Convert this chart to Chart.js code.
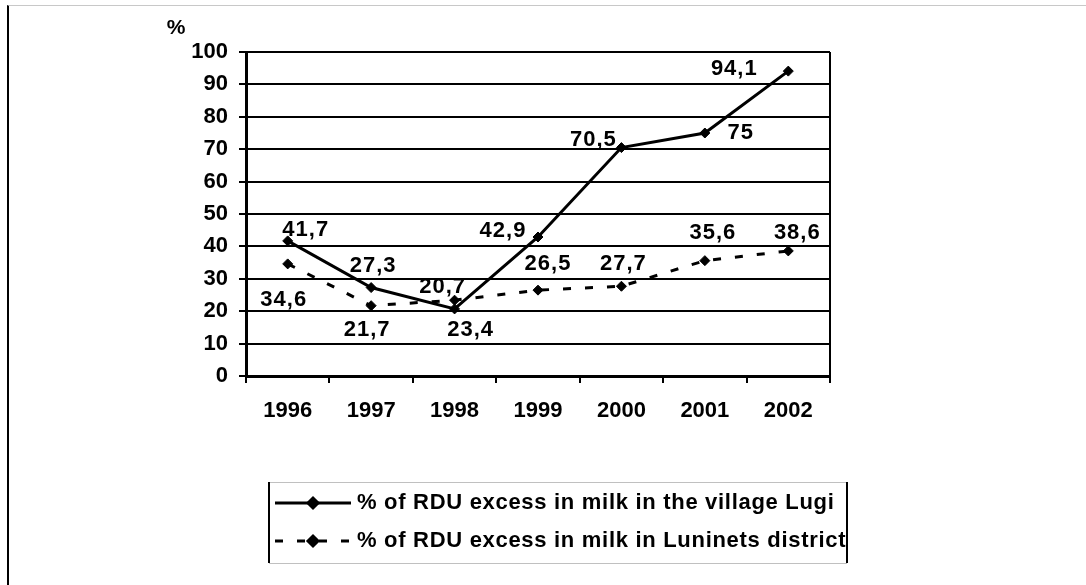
<!DOCTYPE html>
<html>
<head>
<meta charset="utf-8">
<script src="https://cdn.jsdelivr.net/npm/chart.js@4/dist/chart.umd.min.js"></script>
<style>
  html, body { margin: 0; padding: 0; background: #fff; }
  #wrap { position: relative; width: 1086px; height: 585px; overflow: hidden; }
  #line-chart { position: absolute; left: 0; top: 0; }
  #frame {
    position: absolute; left: 7px; top: 5px; right: 0; bottom: 0;
    border-top: 1px solid #c8c8c8; border-left: 2px solid #000;
    pointer-events: none;
  }
</style>
</head>
<body>
<div id="wrap">
  <canvas id="line-chart" width="1086" height="585"></canvas>
  <div id="frame"></div>
</div>
<script>
const years = ["1996", "1997", "1998", "1999", "2000", "2001", "2002"];
const lugi = [41.7, 27.3, 20.7, 42.9, 70.5, 75, 94.1];
const luninets = [34.6, 21.7, 23.4, 26.5, 27.7, 35.6, 38.6];
const seriesNames = [
  "% of RDU excess in milk in the village Lugi",
  "% of RDU excess in milk in Luninets district",
];

const FONT = "'Liberation Sans', Arial, sans-serif";
const DASH = [8, 14];

// where each value label sits relative to its point (dx, dy)
const labelShift = [
  [[18, -11], [2, -22], [-12, -22], [-35, -6], [-28, -8], [36, 0], [-54, -2]],
  [[-4, 36], [-4, 24], [16, 30], [10, -26], [2, -22], [8, -28], [9, -18]],
];

const fmt = (v) => String(v).replace(".", ",");

const extras = {
  id: "extras",
  afterDatasetsDraw(chart) {
    const ctx = chart.ctx;
    const area = chart.chartArea;
    ctx.save();
    // right frame of plot
    ctx.strokeStyle = "#000";
    ctx.lineWidth = 2;
    ctx.beginPath();
    ctx.moveTo(area.right, area.top);
    ctx.lineTo(area.right, area.bottom);
    ctx.stroke();

    // value labels
    ctx.fillStyle = "#000";
    ctx.font = "bold 22px " + FONT;
    ctx.letterSpacing = "1px";
    ctx.textAlign = "center";
    ctx.textBaseline = "middle";
    chart.data.datasets.forEach((ds, i) => {
      chart.getDatasetMeta(i).data.forEach((pt, j) => {
        const s = labelShift[i][j];
        ctx.fillText(fmt(ds.data[j]), pt.x + s[0], pt.y + s[1]);
      });
    });

    // "%" unit
    ctx.letterSpacing = "0px";
    ctx.font = "bold 21px " + FONT;
    ctx.fillText("%", area.left - 70, area.top - 24);

    // legend
    const box = { l: 269, r: 847, t: 482, b: 563 };
    ctx.lineWidth = 1;
    ctx.strokeStyle = "#c0c0c0";
    ctx.beginPath();
    ctx.moveTo(box.l, box.t + 0.5); ctx.lineTo(box.r, box.t + 0.5);
    ctx.moveTo(box.l, box.b + 0.5); ctx.lineTo(box.r, box.b + 0.5);
    ctx.stroke();
    ctx.lineWidth = 2;
    ctx.strokeStyle = "#000";
    ctx.beginPath();
    ctx.moveTo(box.l, box.t); ctx.lineTo(box.l, box.b);
    ctx.moveTo(box.r, box.t); ctx.lineTo(box.r, box.b);
    ctx.stroke();

    chart.data.datasets.forEach((ds, i) => {
      const y = 503 + 38 * i;
      ctx.lineWidth = 3;
      ctx.setLineDash(ds.borderDash || []);
      ctx.beginPath();
      ctx.moveTo(275, y);
      ctx.lineTo(351, y);
      ctx.stroke();
      ctx.setLineDash([]);
      Chart.helpers.drawPoint(ctx, { pointStyle: "rectRot", radius: 5, borderWidth: 1 }, 313, y);
      ctx.fill();
      ctx.textAlign = "left";
      ctx.font = "bold 22px " + FONT;
      ctx.letterSpacing = "0.7px";
      ctx.fillText(ds.label, 357, y);
    });
    ctx.restore();
  },
};

const pointOpts = {
  borderColor: "#000",
  backgroundColor: "#000",
  borderWidth: 3,
  pointStyle: "rectRot",
  pointRadius: 5,
  pointBorderWidth: 1,
  pointBackgroundColor: "#000",
  pointBorderColor: "#000",
  tension: 0,
  fill: false,
};

const config = {
  type: "line",
  data: {
    labels: years,
    datasets: [
      { label: seriesNames[0], data: lugi, ...pointOpts },
      { label: seriesNames[1], data: luninets, borderDash: DASH, ...pointOpts },
    ],
  },
  options: {
    responsive: false,
    animation: false,
    layout: { padding: { left: 176, right: 256, top: 52, bottom: 159 } },
    plugins: { legend: { display: false }, tooltip: { enabled: false } },
    scales: {
      x: {
        offset: true,
        grid: { offset: true, drawOnChartArea: false, drawTicks: true, tickLength: 7, color: "#000", lineWidth: 2 },
        border: { color: "#000", width: 3 },
        ticks: { color: "#000", padding: 15, maxRotation: 0, font: { family: FONT, size: 22, weight: "bold" } },
        afterFit(scale) { scale.height = 50; scale.paddingLeft = 0; scale.paddingRight = 0; },
      },
      y: {
        min: 0,
        max: 100,
        grid: { color: "#000", lineWidth: 2, tickLength: 7 },
        border: { color: "#000", width: 3 },
        ticks: { stepSize: 10, color: "#000", padding: 11, font: { family: FONT, size: 22, weight: "bold" } },
        afterFit(scale) { scale.width = 70; scale.paddingTop = 0; scale.paddingBottom = 0; },
      },
    },
  },
  plugins: [extras],
};

const lineChart = new Chart(document.getElementById("line-chart"), config);
</script>
</body>
</html>
